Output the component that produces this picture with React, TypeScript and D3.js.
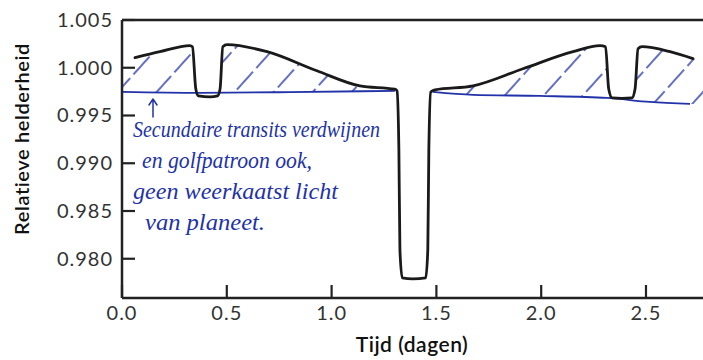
import React from 'react';
import * as d3 from 'd3';

// light curve: [tijd (dagen), relatieve helderheid]
const lightCurve: [number, number][] = [
  [0.062, 1.00105], [0.181, 1.00168], [0.324, 1.00232], [0.336, 1.0022],
  [0.352, 0.99779], [0.364, 0.99705], [0.42, 0.99695], [0.456, 0.99705],
  [0.468, 0.99779], [0.481, 1.00221], [0.501, 1.00242], [0.692, 1.00168],
  [0.93, 0.99968], [1.135, 0.9981], [1.302, 0.99775], [1.312, 0.99758],
  [1.321, 0.99147], [1.326, 0.98095], [1.337, 0.978], [1.388, 0.97789],
  [1.449, 0.978], [1.459, 0.98095], [1.464, 0.99147], [1.473, 0.99747],
  [1.493, 0.99768], [1.675, 0.9981], [1.913, 0.99989], [2.152, 1.00168],
  [2.281, 1.00232], [2.307, 1.0022], [2.322, 0.99779], [2.338, 0.99684],
  [2.385, 0.99679], [2.433, 0.99684], [2.448, 0.99779], [2.462, 1.002],
  [2.481, 1.00221], [2.615, 1.00168], [2.724, 1.00095],
];

// hand-drawn blue baseline (two pieces, broken at the primary transit)
const baselineLeft: [number, number][] = [
  [0.0, 0.99747], [0.372, 0.99737], [0.8, 0.99745], [1.302, 0.99758],
];
const baselineRight: [number, number][] = [
  [1.484, 0.99747], [1.675, 0.99716], [1.994, 0.99705], [2.314, 0.99684],
  [2.519, 0.99642], [2.71, 0.99621],
];

const xTicks = [0.0, 0.5, 1.0, 1.5, 2.0, 2.5];
const yTicks = [0.98, 0.985, 0.99, 0.995, 1.0, 1.005];

const noteLines = [
  'Secundaire transits verdwijnen',
  'en golfpatroon ook,',
  'geen weerkaatst licht',
  'van planeet.',
];

const W = 703;
const H = 360;
const ink = '#2232a8';
const axisColor = '#222';

export default function App() {
  const left = 122, top = 20, bottom = 298;
  const x = d3.scaleLinear().domain([0, 2.772]).range([left, 703]);
  const y = d3.scaleLinear().domain([0.97589, 1.005]).range([bottom, top]);

  const line = d3.line<[number, number]>()
    .x(d => x(d[0]))
    .y(d => y(d[1]))
    .curve(d3.curveMonotoneX);

  const blackPath = line(lightCurve) || '';
  const blueLeft = line(baselineLeft) || '';
  const blueRight = line(baselineRight) || '';

  // region under the black curve (extended to the axis on the left)
  const first = lightCurve[0];
  const last = lightCurve[lightCurve.length - 1];
  const underBlack =
    `M${x(0)},${y(first[1])}L` + blackPath.slice(1) +
    `L${W},${y(last[1])}L${W},${bottom}L${x(0)},${bottom}Z`;
  const allBlue = [...baselineLeft, ...baselineRight];
  const aboveBlue =
    (line(allBlue) || '') + `L${W},${y(allBlue[allBlue.length - 1][1])}L${W},${top}L${x(0)},${top}Z`;

  const fontTick = 'Lato, "Noto Sans", sans-serif';
  const fontHand = '"Liberation Serif", "DejaVu Serif", serif';

  const noteX = [133, 142, 133, 145];
  const noteY = [137, 168, 199, 230];
  const noteW = [247, 170, 205, 120];

  return (
    <svg width={W} height={H} style={{ position: 'fixed', left: 0, top: 0, background: '#fff' }}>
      <defs>
        <pattern id="hatch" width="29" height="29" patternUnits="userSpaceOnUse"
          patternTransform="rotate(42)">
          <line x1="4" y1="0" x2="4" y2="29" stroke={ink} strokeWidth="1.4"
            strokeDasharray="24 5" />
        </pattern>
        <clipPath id="underBlack"><path d={underBlack} /></clipPath>
        <clipPath id="aboveBlue"><path d={aboveBlue} /></clipPath>
      </defs>

      {/* hatching between curve and baseline */}
      <g clipPath="url(#underBlack)">
        <g clipPath="url(#aboveBlue)">
          <rect x={left} y={top} width={W - left} height={bottom - top} fill="url(#hatch)" />
        </g>
      </g>

      {/* blue baseline */}
      <path d={blueLeft} fill="none" stroke={ink} strokeWidth={1.8} />
      <path d={blueRight} fill="none" stroke={ink} strokeWidth={1.8} />

      {/* light curve */}
      <path d={blackPath} fill="none" stroke="#1a1a1a" strokeWidth={2.8}
        strokeLinejoin="round" strokeLinecap="round" />

      {/* frame and axes */}
      <line x1={left} x2={W} y1={top} y2={top} stroke={axisColor} strokeWidth={2.5} />
      <line x1={left} x2={left} y1={top} y2={bottom} stroke={axisColor} strokeWidth={2.5} />
      <line x1={left} x2={W} y1={bottom} y2={bottom} stroke={axisColor} strokeWidth={2.5} />

      {xTicks.map(t => (
        <g key={'x' + t}>
          <line x1={x(t)} x2={x(t)} y1={bottom} y2={bottom - 13} stroke={axisColor} strokeWidth={2.2} />
          <text x={x(t)} y={320} textAnchor="middle" fontFamily={fontTick} fontSize={20}
            letterSpacing={1} fill="#333">{t.toFixed(1)}</text>
        </g>
      ))}

      {yTicks.map(v => (
        <g key={'y' + v}>
          <line x1={left} x2={left + 13} y1={y(v)} y2={y(v)} stroke={axisColor} strokeWidth={2.2} />
          <text x={113} y={y(v) + 7} textAnchor="end" fontFamily={fontTick} fontSize={20}
            letterSpacing={1} fill="#333">{v.toFixed(3)}</text>
        </g>
      ))}

      <text transform={`translate(29,139) rotate(-90)`} textAnchor="middle" fontFamily={fontTick}
        fontSize={20} fontWeight={600} letterSpacing={0.6} fill="#111">Relatieve helderheid</text>
      <text x={412} y={352} textAnchor="middle" fontFamily={fontTick} fontSize={21}
        fontWeight={600} letterSpacing={0.5} fill="#111">Tijd (dagen)</text>

      {/* handwritten note */}
      <path d="M153,117 L153,100 M149,105 L153,99 L157,105" fill="none" stroke={ink}
        strokeWidth={1.5} strokeLinecap="round" strokeLinejoin="round" />
      {noteLines.map((s, i) => (
        <text key={s} x={noteX[i]} y={noteY[i]} fontFamily={fontHand} fontStyle="italic"
          fontSize={23} fill={ink} textLength={noteW[i]} lengthAdjust="spacingAndGlyphs">{s}</text>
      ))}
    </svg>
  );
}
